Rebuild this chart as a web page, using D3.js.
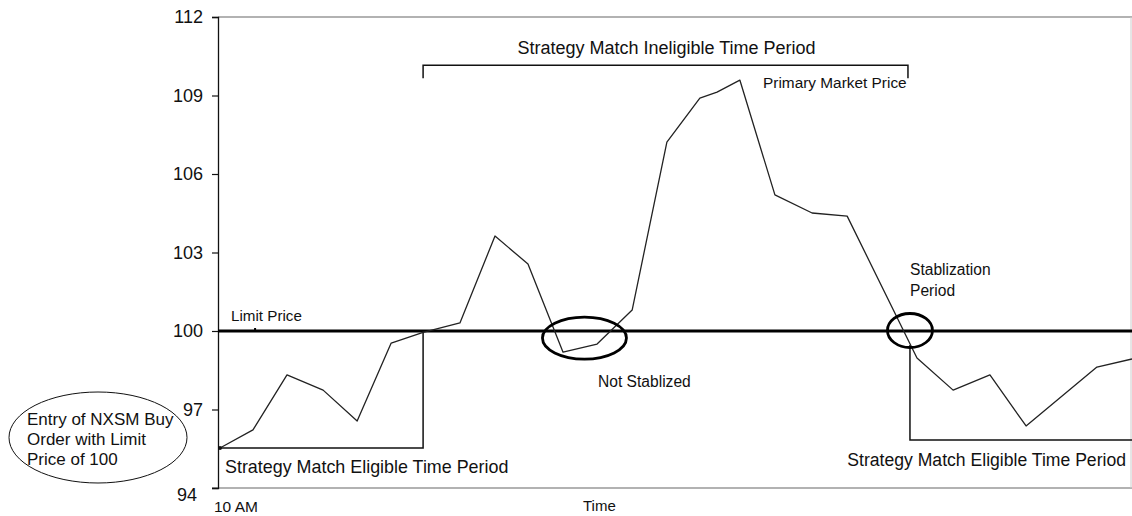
<!DOCTYPE html>
<html>
<head>
<meta charset="utf-8">
<script src="https://cdn.jsdelivr.net/npm/d3@7/dist/d3.min.js"></script>
<style>
  body { margin: 0; background: #fff; }
  svg { display: block; font-family: "Liberation Sans", Arial, sans-serif; }
</style>
</head>
<body>
<div id="chart"></div>
<script>
// datos del grafico
var times = [0, 0.94, 1.91, 2.94, 3.91, 4.88, 5.79, 6.84, 7.84, 8.78, 9.78, 10.75, 11.75,
  12.74, 13.68, 14.17, 14.82, 15.82, 16.88, 17.88, 19.87, 20.90, 21.95, 22.98, 25.0, 26.0];
var prices = [95.53, 96.22, 98.32, 97.74, 96.56, 99.54, 99.95, 100.31, 103.63, 102.56, 99.19,
  99.50, 100.80, 107.22, 108.90, 109.13, 109.59, 105.20, 104.51, 104.39, 98.97, 97.74, 98.32,
  96.37, 98.62, 98.93];
var yTicks = [94, 97, 100, 103, 106, 109, 112];
var limitPrice = 100;
var eligibleEnd = 5.79;     // fin del primer periodo elegible
var eligibleStart = 19.67;  // inicio del segundo periodo elegible
var leftBoxBottom = 95.53;
var rightBoxBottom = 95.83;

var width = 1132, height = 516;

var svg = d3.select('#chart').append('svg')
  .attr('width', width)
  .attr('height', height);

var x = d3.scaleLinear().domain([0, 26]).range([220, 1132]);
var y = d3.scaleLinear().domain([94, 112]).range([488, 17]);

// marco
svg.append('line')
  .attr('x1', 218).attr('x2', 1132)
  .attr('y1', y(112)).attr('y2', y(112))
  .attr('stroke', '#666').attr('stroke-width', 1.2);
svg.append('line')
  .attr('x1', 212).attr('x2', 1132)
  .attr('y1', y(94)).attr('y2', y(94))
  .attr('stroke', '#666').attr('stroke-width', 1.2);
svg.append('line')
  .attr('x1', 1131).attr('x2', 1131)
  .attr('y1', y(112)).attr('y2', y(94))
  .attr('stroke', '#ccc').attr('stroke-width', 1);

// eje Y
var yAxis = svg.append('g')
  .attr('transform', 'translate(218,0)')
  .call(d3.axisLeft(y).tickValues(yTicks).tickSize(6).tickPadding(9).tickFormat(d3.format('d')));
yAxis.select('.domain').attr('stroke', '#111').attr('stroke-width', 1.3);
yAxis.selectAll('.tick line').attr('stroke', '#111').attr('stroke-width', 1.2);
yAxis.selectAll('.tick text')
  .attr('font-size', 18)
  .attr('font-family', '"Liberation Sans", Arial, sans-serif')
  .attr('fill', '#111');
yAxis.selectAll('.tick text').filter(d => d === 94)
  .attr('transform', 'translate(-6,7)');

// linea del precio limite
svg.append('line')
  .attr('x1', 218).attr('x2', 1132)
  .attr('y1', y(limitPrice)).attr('y2', y(limitPrice))
  .attr('stroke', '#000').attr('stroke-width', 3);
svg.append('line')
  .attr('x1', x(1.0)).attr('x2', x(1.0))
  .attr('y1', y(limitPrice) - 3).attr('y2', y(limitPrice))
  .attr('stroke', '#000').attr('stroke-width', 2);

// cajas de periodos elegibles
svg.append('path')
  .attr('d', `M218,${y(leftBoxBottom)} H${x(eligibleEnd)} V${y(limitPrice)}`)
  .attr('fill', 'none').attr('stroke', '#111').attr('stroke-width', 1.5);
svg.append('path')
  .attr('d', `M${x(eligibleStart)},${y(limitPrice) + 14} V${y(rightBoxBottom)} H1132`)
  .attr('fill', 'none').attr('stroke', '#111').attr('stroke-width', 1.5);

// corchete del periodo no elegible
var bracketY = y(110.16);
svg.append('path')
  .attr('d', `M${x(eligibleEnd)},${bracketY + 13} V${bracketY} H${x(eligibleStart) - 2} V${bracketY + 13}`)
  .attr('fill', 'none').attr('stroke', '#111').attr('stroke-width', 1.5);

// precio de mercado
var line = d3.line()
  .x((d, i) => x(times[i]))
  .y(d => y(d));
svg.append('path')
  .datum(prices)
  .attr('d', line)
  .attr('fill', 'none')
  .attr('stroke', '#222')
  .attr('stroke-width', 1.3)
  .attr('stroke-linejoin', 'round');
svg.append('circle')
  .attr('cx', x(times[0])).attr('cy', y(prices[0])).attr('r', 2)
  .attr('fill', '#111');

// elipses
svg.append('ellipse')
  .attr('cx', x(10.39)).attr('cy', y(99.73))
  .attr('rx', 42).attr('ry', 21)
  .attr('fill', 'none').attr('stroke', '#000').attr('stroke-width', 2.8);
svg.append('ellipse')
  .attr('cx', x(19.67)).attr('cy', y(100.02))
  .attr('rx', 22.5).attr('ry', 17)
  .attr('fill', 'none').attr('stroke', '#000').attr('stroke-width', 2.8);
svg.append('ellipse')
  .attr('cx', 98).attr('cy', 437.5)
  .attr('rx', 89).attr('ry', 45.5)
  .attr('fill', 'none').attr('stroke', '#111').attr('stroke-width', 1);

// textos
function label(txt, px, py, size, anchor) {
  return svg.append('text')
    .attr('x', px).attr('y', py)
    .attr('font-size', size)
    .attr('fill', '#111')
    .attr('text-anchor', anchor || 'start')
    .text(txt);
}

label('Strategy Match Ineligible Time Period', (x(eligibleEnd) + x(eligibleStart)) / 2, 54, 18, 'middle');
label('Primary Market Price', 763, 88, 15.4);
label('Limit Price', 231, 321, 15.2);
label('Not Stablized', 598, 387, 15.6);
label('Stablization', 910, 275, 15.6);
label('Period', 910, 296, 15.6);
label('Strategy Match Eligible Time Period', 225, 473, 17.9);
label('Strategy Match Eligible Time Period', 1126, 466, 17.6, 'end');
label('10 AM', 214, 512, 15.5);
label('Time', 583, 511, 15);
label('Entry of NXSM Buy', 27, 425, 17);
label('Order with Limit', 27, 445, 17);
label('Price of 100', 27, 465, 17);
</script>
</body>
</html>
